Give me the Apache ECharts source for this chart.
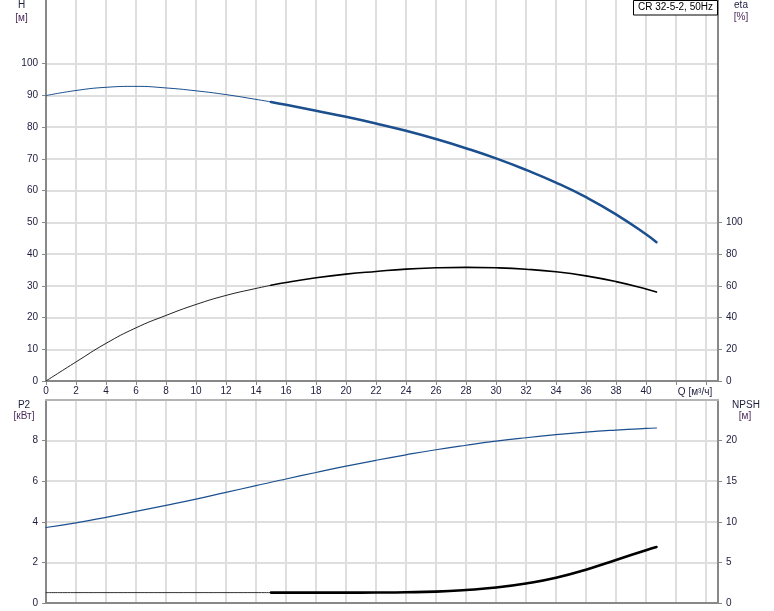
<!DOCTYPE html>
<html>
<head>
<meta charset="utf-8">
<script src="https://cdn.jsdelivr.net/npm/echarts@6/dist/echarts.min.js"></script>
<style>
html,body{margin:0;padding:0;background:#fff;}
#c{width:774px;height:611px;}
</style>
</head>
<body>
<div id="c"></div>
<script>
// ---- data ----
const Q    = [0, 2, 4, 6, 8, 10, 12, 14, 15, 16, 18, 20, 22, 24, 26, 28, 30, 32, 34, 36, 38, 40, 40.7];
const H    = [89.9, 91.5, 92.5, 92.8, 92.3, 91.4, 90.2, 88.7, 87.9, 87.0, 85.1, 83.2, 81.1, 78.8, 76.2, 73.3, 70.1, 66.5, 62.5, 57.9, 52.5, 46.2, 43.7];
const ETA  = [0, 12.0, 23.7, 33.5, 41.3, 48.2, 53.9, 58.3, 60.3, 62.1, 65.0, 67.3, 69.0, 70.5, 71.3, 71.6, 71.3, 70.4, 68.8, 66.2, 62.6, 58.0, 56.0];
const P2   = [3.72, 3.95, 4.22, 4.51, 4.81, 5.12, 5.45, 5.78, 5.95, 6.11, 6.43, 6.74, 7.03, 7.30, 7.55, 7.77, 7.97, 8.14, 8.29, 8.42, 8.52, 8.60, 8.62];
const NPSH = [1.28, 1.28, 1.28, 1.28, 1.28, 1.28, 1.28, 1.28, 1.28, 1.28, 1.28, 1.28, 1.29, 1.32, 1.40, 1.60, 1.90, 2.40, 3.10, 4.10, 5.30, 6.50, 6.90];
const DUTY_START = 15; // Q where the bold (working range) part starts
const X_LABELS   = [0,2,4,6,8,10,12,14,16,18,20,22,24,26,28,30,32,34,36,38,40];
const X_TICKS    = [0,2,4,6,8,10,12,14,16,18,20,22,24,26,28,30,32,34,36,38,40,42,44];
const H_TICKS    = [0,10,20,30,40,50,60,70,80,90,100];
const ETA_TICKS  = [0,20,40,60,80,100];
const P2_TICKS   = [0,2,4,6,8];
const NPSH_TICKS = [0,5,10,15,20];
const TITLE = 'CR 32-5-2, 50Hz';

function pairs(vals, from, to) {
  return Q.map((q, i) => [q, vals[i]]).filter(p => p[0] >= from && p[0] <= to);
}

const FONT = 'Liberation Sans, Arial, sans-serif';
const LBL = '#1c1c3c';
const UNIT = '#4a2a5a';
const AXIS = '#888888';
const GRID = '#dedede';
const BLUE = '#1b4f8e';

const chart = echarts.init(document.getElementById('c'), null, {renderer: 'canvas'});

const xBase = {
  type: 'value', min: 0, max: 44.8, interval: 2,
  axisLine: {show: true, onZero: false, lineStyle: {color: AXIS, width: 2}},
  splitLine: {show: true, lineStyle: {color: GRID, width: 2}},
};

function line(name, xi, yi, data, color, width) {
  return {type: 'line', name: name, xAxisIndex: xi, yAxisIndex: yi, data: data,
    smooth: true, symbol: 'none', lineStyle: {color: color, width: width, cap: 'round', join: 'round'}};
}

const option = {
  animation: false,
  backgroundColor: '#fff',
  grid: [
    {left: 46, top: 0, width: 672, height: 381, containLabel: false, outerBoundsMode: 'none'},
    {left: 46, top: 400, width: 672, height: 203, containLabel: false, outerBoundsMode: 'none'}
  ],
  xAxis: [
    Object.assign({}, xBase, {
      gridIndex: 0, position: 'bottom',
      axisTick: {show: true, length: 4, lineStyle: {color: AXIS}, customValues: X_TICKS},
      axisLabel: {show: true, margin: 5, color: LBL, fontSize: 10, fontFamily: FONT, customValues: X_LABELS}
    }),
    Object.assign({}, xBase, {
      gridIndex: 1, position: 'bottom',
      axisTick: {show: false},
      axisLabel: {show: false}
    }),
    Object.assign({}, xBase, {
      gridIndex: 1, position: 'top',
      axisLine: {show: true, onZero: false, lineStyle: {color: '#b4b4b4', width: 2}},
      splitLine: {show: false},
      axisTick: {show: false},
      axisLabel: {show: false}
    })
  ],
  yAxis: [
    {
      type: 'value', gridIndex: 0, position: 'left', min: 0, max: 120, interval: 10,
      axisLine: {show: true, onZero: false, lineStyle: {color: AXIS, width: 2}},
      axisTick: {show: true, length: 4, lineStyle: {color: AXIS}, customValues: H_TICKS},
      axisLabel: {show: true, margin: 8, color: LBL, fontSize: 10, fontFamily: FONT, customValues: H_TICKS},
      splitLine: {show: true, lineStyle: {color: GRID, width: 2}}
    },
    {
      type: 'value', gridIndex: 0, position: 'right', min: 0, max: 240, interval: 20,
      axisLine: {show: true, onZero: false, lineStyle: {color: AXIS, width: 2}},
      axisTick: {show: true, length: 4, lineStyle: {color: AXIS}, customValues: ETA_TICKS},
      axisLabel: {show: true, margin: 8, color: LBL, fontSize: 10, fontFamily: FONT, customValues: ETA_TICKS},
      splitLine: {show: false}
    },
    {
      type: 'value', gridIndex: 1, position: 'left', min: 0, max: 10, interval: 2,
      axisLine: {show: true, onZero: false, lineStyle: {color: AXIS, width: 2}},
      axisTick: {show: true, length: 4, lineStyle: {color: AXIS}, customValues: P2_TICKS},
      axisLabel: {show: true, margin: 8, color: LBL, fontSize: 10, fontFamily: FONT, customValues: P2_TICKS},
      splitLine: {show: true, lineStyle: {color: GRID, width: 2}}
    },
    {
      type: 'value', gridIndex: 1, position: 'right', min: 0, max: 25, interval: 5,
      axisLine: {show: true, onZero: false, lineStyle: {color: AXIS, width: 2}},
      axisTick: {show: true, length: 4, lineStyle: {color: AXIS}, customValues: NPSH_TICKS},
      axisLabel: {show: true, margin: 8, color: LBL, fontSize: 10, fontFamily: FONT, customValues: NPSH_TICKS},
      splitLine: {show: false}
    }
  ],
  series: [
    line('H', 0, 0, pairs(H, 0, DUTY_START), BLUE, 1),
    line('H duty', 0, 0, pairs(H, DUTY_START, 100), BLUE, 2.5),
    line('eta', 0, 1, pairs(ETA, 0, DUTY_START), '#222', 1),
    line('eta duty', 0, 1, pairs(ETA, DUTY_START, 100), '#000', 1.6),
    line('P2', 1, 2, pairs(P2, 0, 100), BLUE, 1.2),
    line('NPSH', 1, 3, pairs(NPSH, 0, DUTY_START), '#333', 1),
    line('NPSH duty', 1, 3, pairs(NPSH, DUTY_START, 100), '#000', 2.6)
  ],
  graphic: [
    {type: 'text', x: 21.5, y: 5, style: {text: 'H', fill: LBL, font: '10px ' + FONT, align: 'center', verticalAlign: 'middle'}},
    {type: 'text', x: 21.5, y: 18, style: {text: '[м]', fill: UNIT, font: '10px ' + FONT, align: 'center', verticalAlign: 'middle'}},
    {type: 'text', x: 741, y: 5, style: {text: 'eta', fill: LBL, font: '10px ' + FONT, align: 'center', verticalAlign: 'middle'}},
    {type: 'text', x: 741, y: 17, style: {text: '[%]', fill: UNIT, font: '10px ' + FONT, align: 'center', verticalAlign: 'middle'}},
    {type: 'text', x: 24, y: 405, style: {text: 'P2', fill: LBL, font: '10px ' + FONT, align: 'center', verticalAlign: 'middle'}},
    {type: 'text', x: 24, y: 416, style: {text: '[кВт]', fill: UNIT, font: '10px ' + FONT, align: 'center', verticalAlign: 'middle'}},
    {type: 'text', x: 746, y: 405, style: {text: 'NPSH', fill: LBL, font: '10px ' + FONT, align: 'center', verticalAlign: 'middle'}},
    {type: 'text', x: 745, y: 416, style: {text: '[м]', fill: UNIT, font: '10px ' + FONT, align: 'center', verticalAlign: 'middle'}},
    {type: 'text', x: 695, y: 392, style: {text: 'Q [м³/ч]', fill: LBL, font: '10px ' + FONT, align: 'center', verticalAlign: 'middle'}},
    {type: 'rect', shape: {x: 633.5, y: 0.5, width: 84, height: 14.5}, style: {fill: '#fff', stroke: '#000', lineWidth: 1}, z: 100},
    {type: 'text', x: 675.5, y: 7.5, z: 101, style: {text: TITLE, fill: '#000', font: '10px ' + FONT, align: 'center', verticalAlign: 'middle'}}
  ]
};
chart.setOption(option);
</script>
</body>
</html>
